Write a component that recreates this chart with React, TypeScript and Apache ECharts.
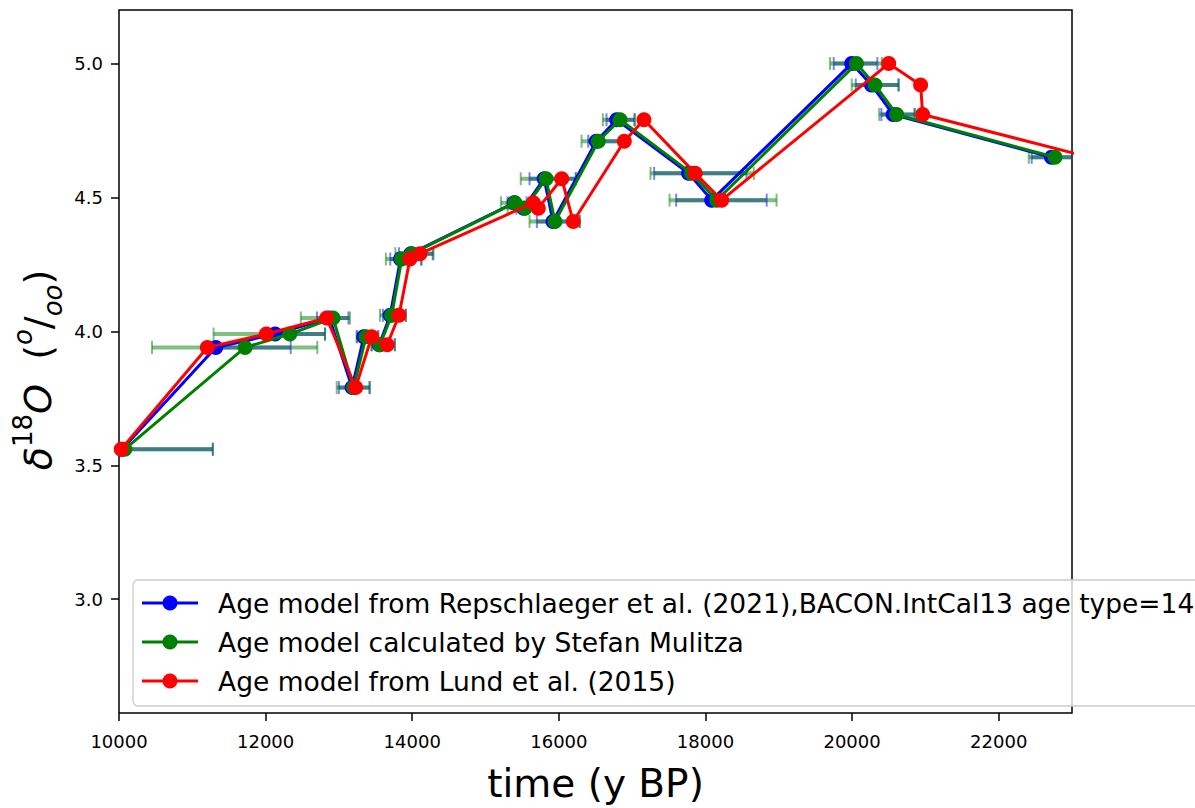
import React, { useEffect, useRef } from 'react';
import * as echarts from 'echarts';

const seriesNames = [
  'Age model from Repschlaeger et al. (2021),BACON.IntCal13 age type=14C',
  'Age model calculated by Stefan Mulitza',
  'Age model from Lund et al. (2015)',
];
const seriesColors = ['#0000ff', '#008000', '#ff0000'];

const d18O = [3.56, 3.94, 3.99, 4.05, 3.79, 3.98, 3.95, 4.06, 4.27, 4.29, 4.48, 4.46, 4.57, 4.41, 4.71, 4.79, 4.59, 4.49, 5.0, 4.92, 4.81, 4.65];

const ageRepschlaeger = [10040, 11320, 12130, 12870, 13180, 13340, 13550, 13700, 13840, 13980, 15390, 15520, 15800, 15920, 16510, 16790, 17770, 18085, 19995, 20265, 20560, 22720];
const ageMulitza = [10080, 11720, 12330, 12920, 13200, 13370, 13560, 13720, 13856, 13995, 15401, 15538, 15825, 15947, 16538, 16835, 17810, 18155, 20060, 20312, 20608, 22768];
const ageLund = [10030, 11205, 12010, 12833, 13228, 13447, 13658, 13820, 13969, 14106, 15651, 15720, 16039, 16196, 16893, 17161, 17860, 18221, 20500, 20935, 20963, 23240];

const errLowRepschlaeger = [8840, 11300, 12000, 12700, 13000, 13250, 13450, 13600, 13700, 13820, 15300, 15420, 15600, 15700, 16400, 16650, 17300, 17600, 19750, 20050, 20400, 22450];
const errHighRepschlaeger = [11280, 12342, 12810, 13130, 13415, 13530, 13760, 13910, 14120, 14280, 15560, 15680, 16230, 16280, 16870, 17030, 18560, 18835, 20345, 20630, 20850, 23200];
const errLowMulitza = [8880, 10450, 11290, 12480, 12970, 13240, 13440, 13560, 13640, 13770, 15210, 15300, 15480, 15600, 16310, 16600, 17250, 17510, 19700, 19995, 20370, 22410];
const errHighMulitza = [11280, 12705, 12810, 13150, 13425, 13540, 13765, 13915, 14130, 14290, 15600, 15750, 16235, 16290, 16880, 17040, 18660, 18970, 20405, 20640, 20860, 23300];

const xTicks = [10000, 12000, 14000, 16000, 18000, 20000, 22000];
const yTicks = [3.0, 3.5, 4.0, 4.5, 5.0];

const FONT = 'DejaVu Sans';

function errorBarSeries(low: number[], high: number[], color: string) {
  return {
    type: 'custom',
    silent: true,
    z: 1,
    data: low.map((lo, i) => [lo, high[i], d18O[i]]),
    encode: { x: [0, 1], y: 2 },
    renderItem: (params: any, api: any) => {
      const lo = api.coord([api.value(0), api.value(2)]);
      const hi = api.coord([api.value(1), api.value(2)]);
      const cs = params.coordSys;
      const xmin = cs.x;
      const xmax = cs.x + cs.width;
      const y = lo[1];
      const x1 = Math.max(lo[0], xmin);
      const x2 = Math.min(hi[0], xmax);
      const children: any[] = [
        { type: 'line', shape: { x1, y1: y, x2, y2: y }, style: { stroke: color, lineWidth: 4 } },
      ];
      if (lo[0] >= xmin) {
        children.push({ type: 'line', shape: { x1: lo[0], y1: y - 6.5, x2: lo[0], y2: y + 6.5 }, style: { stroke: color, lineWidth: 2 } });
      }
      if (hi[0] <= xmax) {
        children.push({ type: 'line', shape: { x1: hi[0], y1: y - 6.5, x2: hi[0], y2: y + 6.5 }, style: { stroke: color, lineWidth: 2 } });
      }
      return { type: 'group', children };
    },
  };
}

function lineSeries(ages: number[], idx: number) {
  return {
    type: 'line',
    name: seriesNames[idx],
    data: ages.map((t, i) => [t, d18O[i]]),
    symbol: 'circle',
    symbolSize: 15,
    showSymbol: true,
    clip: true,
    z: 2 + idx,
    itemStyle: { color: seriesColors[idx] },
    lineStyle: { color: seriesColors[idx], width: 3 },
  };
}

export default function App() {
  const ref = useRef<HTMLDivElement>(null);
  useEffect(() => {
    const chart = echarts.init(ref.current!, null, { renderer: 'svg' });
    const legendRows = [603, 642, 681];
    const legendGraphics: any[] = [
      {
        type: 'rect',
        z: 100,
        shape: { x: 133, y: 580, width: 1140, height: 126, r: 5 },
        style: { fill: 'rgba(255,255,255,0.8)', stroke: '#cccccc', lineWidth: 1.3 },
      },
    ];
    seriesNames.forEach((name, i) => {
      const y = legendRows[i];
      legendGraphics.push(
        { type: 'line', z: 101, shape: { x1: 142, y1: y, x2: 198, y2: y }, style: { stroke: seriesColors[i], lineWidth: 3 } },
        { type: 'circle', z: 101, shape: { cx: 170, cy: y, r: 7.5 }, style: { fill: seriesColors[i] } },
        {
          type: 'text', z: 101, x: 218, y,
          style: { text: name, fontFamily: FONT, fontSize: 26.5, fill: '#000', verticalAlign: 'middle', align: 'left' },
        },
      );
    });

    const option: any = {
      animation: false,
      backgroundColor: '#ffffff',
      grid: {
        show: true,
        left: 119,
        top: 10,
        width: 953,
        height: 709,
        borderColor: '#000',
        borderWidth: 1.5,
        backgroundColor: 'transparent',
        containLabel: false,
      },
      xAxis: {
        type: 'value',
        min: 10000,
        max: 23000,
        axisLine: { show: false },
        splitLine: { show: false },
        axisTick: { show: true, inside: false, length: 8, lineStyle: { color: '#000', width: 1.5 }, customValues: xTicks },
        axisLabel: {
          customValues: xTicks,
          color: '#000',
          fontFamily: FONT,
          fontSize: 18,
          margin: 19,
          formatter: (v: number) => String(Math.round(v)),
        },
        name: 'time (y BP)',
        nameLocation: 'middle',
        nameGap: 51,
        nameTextStyle: { fontFamily: FONT, fontSize: 39, color: '#000' },
      },
      yAxis: {
        type: 'value',
        min: 2.575,
        max: 5.2,
        axisLine: { show: false },
        splitLine: { show: false },
        axisTick: { show: true, inside: false, length: 8, lineStyle: { color: '#000', width: 1.5 }, customValues: yTicks },
        axisLabel: {
          customValues: yTicks,
          color: '#000',
          fontFamily: FONT,
          fontSize: 18,
          margin: 16,
          formatter: (v: number) => v.toFixed(1),
        },
      },
      graphic: [
        {
          type: 'text',
          z: 50,
          x: 38,
          y: 370,
          rotation: Math.PI / 2,
          style: {
            text: '{i|δ}{sup|18}{i|O}{r|  (}{isup|o}{r|/}{isub|oo}{r|)}',
            align: 'center',
            verticalAlign: 'middle',
            fill: '#000',
            rich: {
              i: { fontFamily: FONT, fontStyle: 'italic', fontSize: 38, lineHeight: 56, fill: '#000' },
              r: { fontFamily: FONT, fontSize: 38, lineHeight: 56, fill: '#000' },
              sup: { fontFamily: FONT, fontSize: 26, lineHeight: 30, verticalAlign: 'top', fill: '#000' },
              isup: { fontFamily: FONT, fontStyle: 'italic', fontSize: 26, lineHeight: 30, verticalAlign: 'top', fill: '#000' },
              isub: { fontFamily: FONT, fontStyle: 'italic', fontSize: 26, lineHeight: 30, verticalAlign: 'bottom', fill: '#000' },
            },
          },
        },
        ...legendGraphics,
      ],
      series: [
        errorBarSeries(errLowRepschlaeger, errHighRepschlaeger, 'rgba(0,0,255,0.5)'),
        errorBarSeries(errLowMulitza, errHighMulitza, 'rgba(0,128,0,0.5)'),
        lineSeries(ageRepschlaeger, 0),
        lineSeries(ageMulitza, 1),
        lineSeries(ageLund, 2),
      ],
    };
    chart.setOption(option);
    return () => chart.dispose();
  }, []);
  return (
    <div
      ref={ref}
      style={{ position: 'absolute', left: 0, top: 0, width: 1195, height: 808, background: '#fff', overflow: 'hidden' }}
    />
  );
}
